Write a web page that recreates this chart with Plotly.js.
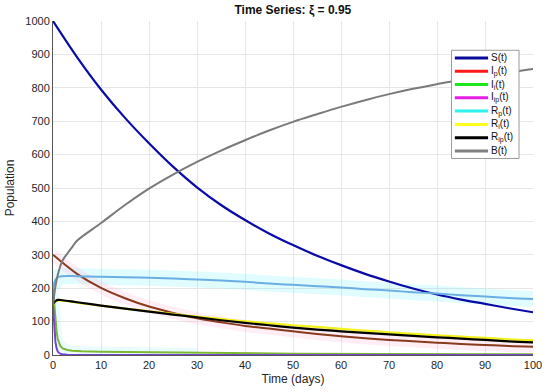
<!DOCTYPE html>
<html>
<head>
<meta charset="utf-8">
<script src="https://cdn.plot.ly/plotly-3.0.1.min.js"></script>
<style>html,body{margin:0;padding:0;background:#fff;}#chart{width:550px;height:392px;}</style>
</head>
<body>
<div id="chart"></div>
<script>
// Time (days) and values
const tS = [0,5,10,15,20,25,30,35,40,45,50,55,60,65,70,75,80,85,90,95,100];
const S  = [1000,892,795,710,634,564,502,449,404,364,329,297,269,243,220,199,181,166,153,140,128];

const tIp = [0,5,10,15,20,25,30,35,40,45,50,55,60,65,70,75,80,85,90,95,100];
const Ip  = [300,243,201,170,145,126,110,98,87,79,71,63,56,50,45,41,37,33,30,27,25];

const tIi = [0,0.25,0.5,0.75,1,1.5,2,3,4,6,10,20,30,50,70,100];
const Ii  = [200,150,105,70,48,28,20,15,13,11,10,8,6,4,3,2];

const tIlp = [0,0.25,0.5,0.75,1,1.5,2,3,5,10,100];
const Ilp  = [150,80,40,20,10,4,2,1,0.5,0.2,0];

const tRp = [0,0.5,1,2,5,10,15,20,25,30,35,40,45,50,55,60,65,70,75,80,85,90,95,100];
const Rp  = [200,225,233,236,236,234,233,231,229,226,223,219,214,210,206,202,197,193,188,184,179,175,171,168];

const tRi = [0,0.5,1,2,5,10,15,20,25,30,35,40,45,50,55,60,65,70,75,80,85,90,95,100];
const Ri  = [150,159,163,163,157,148,139,131,123,115,108,101,95,89,84,78,73,68,63,59,55,51,47,44];

const tRsp = [0,0.5,1,2,5,10,15,20,25,30,35,40,45,50,55,60,65,70,75,80,85,90,95,100];
const Rsp  = [152,161,165,164,158,148,139,130,121,113,104,96,89,82,76,71,66,62,57,53,49,45,41,38];

const tB = [0,0.5,1,1.5,2,3,4,5,10,15,20,25,30,35,40,45,50,55,60,65,70,75,80,85,90,95,100];
const B  = [150,205,240,265,283,304,323,342,395,449,498,540,578,612,643,672,698,721,743,763,781,797,811,824,835,846,856];

const names = ['S(t)','I<sub>p</sub>(t)','I<sub>i</sub>(t)','I<sub>ip</sub>(t)','R<sub>p</sub>(t)','R<sub>i</sub>(t)','R<sub>ip</sub>(t)','B(t)'];
const legendColors = ['#0a0a9c','#ff1a1a','#1ee61e','#e61ee6','#2ef0f0','#ffff1e','#000000','#808080'];

function tr(x,y,color,width,shape){
  return {x:x,y:y,type:'scatter',mode:'lines',showlegend:false,hoverinfo:'skip',
    line:{color:color,width:width,shape:shape||'spline',smoothing:1}};
}
const cut = tIi.filter(v=>v<=30).length;
const traces = [
  // faint glow bands
  tr(tRp,Rp,"rgba(120,240,255,0.22)",16),
  tr(tIp,Ip,"rgba(255,170,210,0.20)",12),
  tr(tIi.slice(0,cut),Ii.slice(0,cut),"rgba(140,240,255,0.18)",10,'linear'),
  // series as drawn
  tr(tS,S,'#0a0aa6',2.2),
  tr(tIp,Ip,'#8a3a1c',2),
  tr(tIi,Ii,'#7cb832',2,'linear'),
  tr(tIlp,Ilp,'#7444d4',2,'linear'),
  tr(tRp,Rp,'#6aaee4',2),
  tr(tRi,Ri,'#f2f21a',2.2),
  tr(tRsp,Rsp,'#000000',2.2),
  tr(tB,B,'#7a7a7a',2)
];

// custom compact legend (pixel geometry converted to paper coordinates)
const L = 52.5, R = 533.3, T = 20.7, Bt = 355;
const px = v => (v - L) / (R - L);
const py = v => (Bt - v) / (Bt - T);
const shapes = [{type:'rect',xref:'paper',yref:'paper',x0:px(451.7),x1:px(519.3),y0:py(158.3),y1:py(50),
  fillcolor:'#ffffff',line:{color:'#9a9a9a',width:1},layer:'above'}];
const annotations = [];
names.forEach((n,i)=>{
  const yy = 57.7 + 13.3*i;
  shapes.push({type:'line',xref:'paper',yref:'paper',x0:px(455),x1:px(488.3),y0:py(yy),y1:py(yy),
    line:{color:legendColors[i],width:3},layer:'above'});
  annotations.push({xref:'paper',yref:'paper',x:px(489.5),y:py(yy),text:n,showarrow:false,
    xanchor:'left',yanchor:'middle',font:{size:10,color:'#111'}});
});

const layout = {
  width:550,height:392,
  margin:{l:L,r:550-R,t:T,b:392-Bt},
  paper_bgcolor:'#fff',plot_bgcolor:'#fff',
  font:{family:'Liberation Sans, Arial, sans-serif',size:11,color:'#262626'},
  title:{text:'<b>Time Series: \u03be = 0.95</b>',font:{size:12,color:'#111'},x:0.5325,xanchor:'center',y:0.985,yanchor:'top'},
  xaxis:{range:[0,100],dtick:10,tick0:0,showgrid:true,gridcolor:'#e6e6e6',gridwidth:1,zeroline:false,
    showline:true,linecolor:'#555',linewidth:1,ticks:'',ticklen:0,
    title:{text:'Time (days)',font:{size:12},standoff:4}},
  yaxis:{range:[0,1000],dtick:100,tick0:0,showgrid:true,gridcolor:'#e6e6e6',gridwidth:1,zeroline:false,
    showline:true,linecolor:'#555',linewidth:1,ticks:'',ticklen:0,
    title:{text:'Population',font:{size:12},standoff:8}},
  showlegend:false,
  shapes:shapes,
  annotations:annotations
};
Plotly.newPlot('chart',traces,layout,{staticPlot:true,displayModeBar:false});
</script>
</body>
</html>
